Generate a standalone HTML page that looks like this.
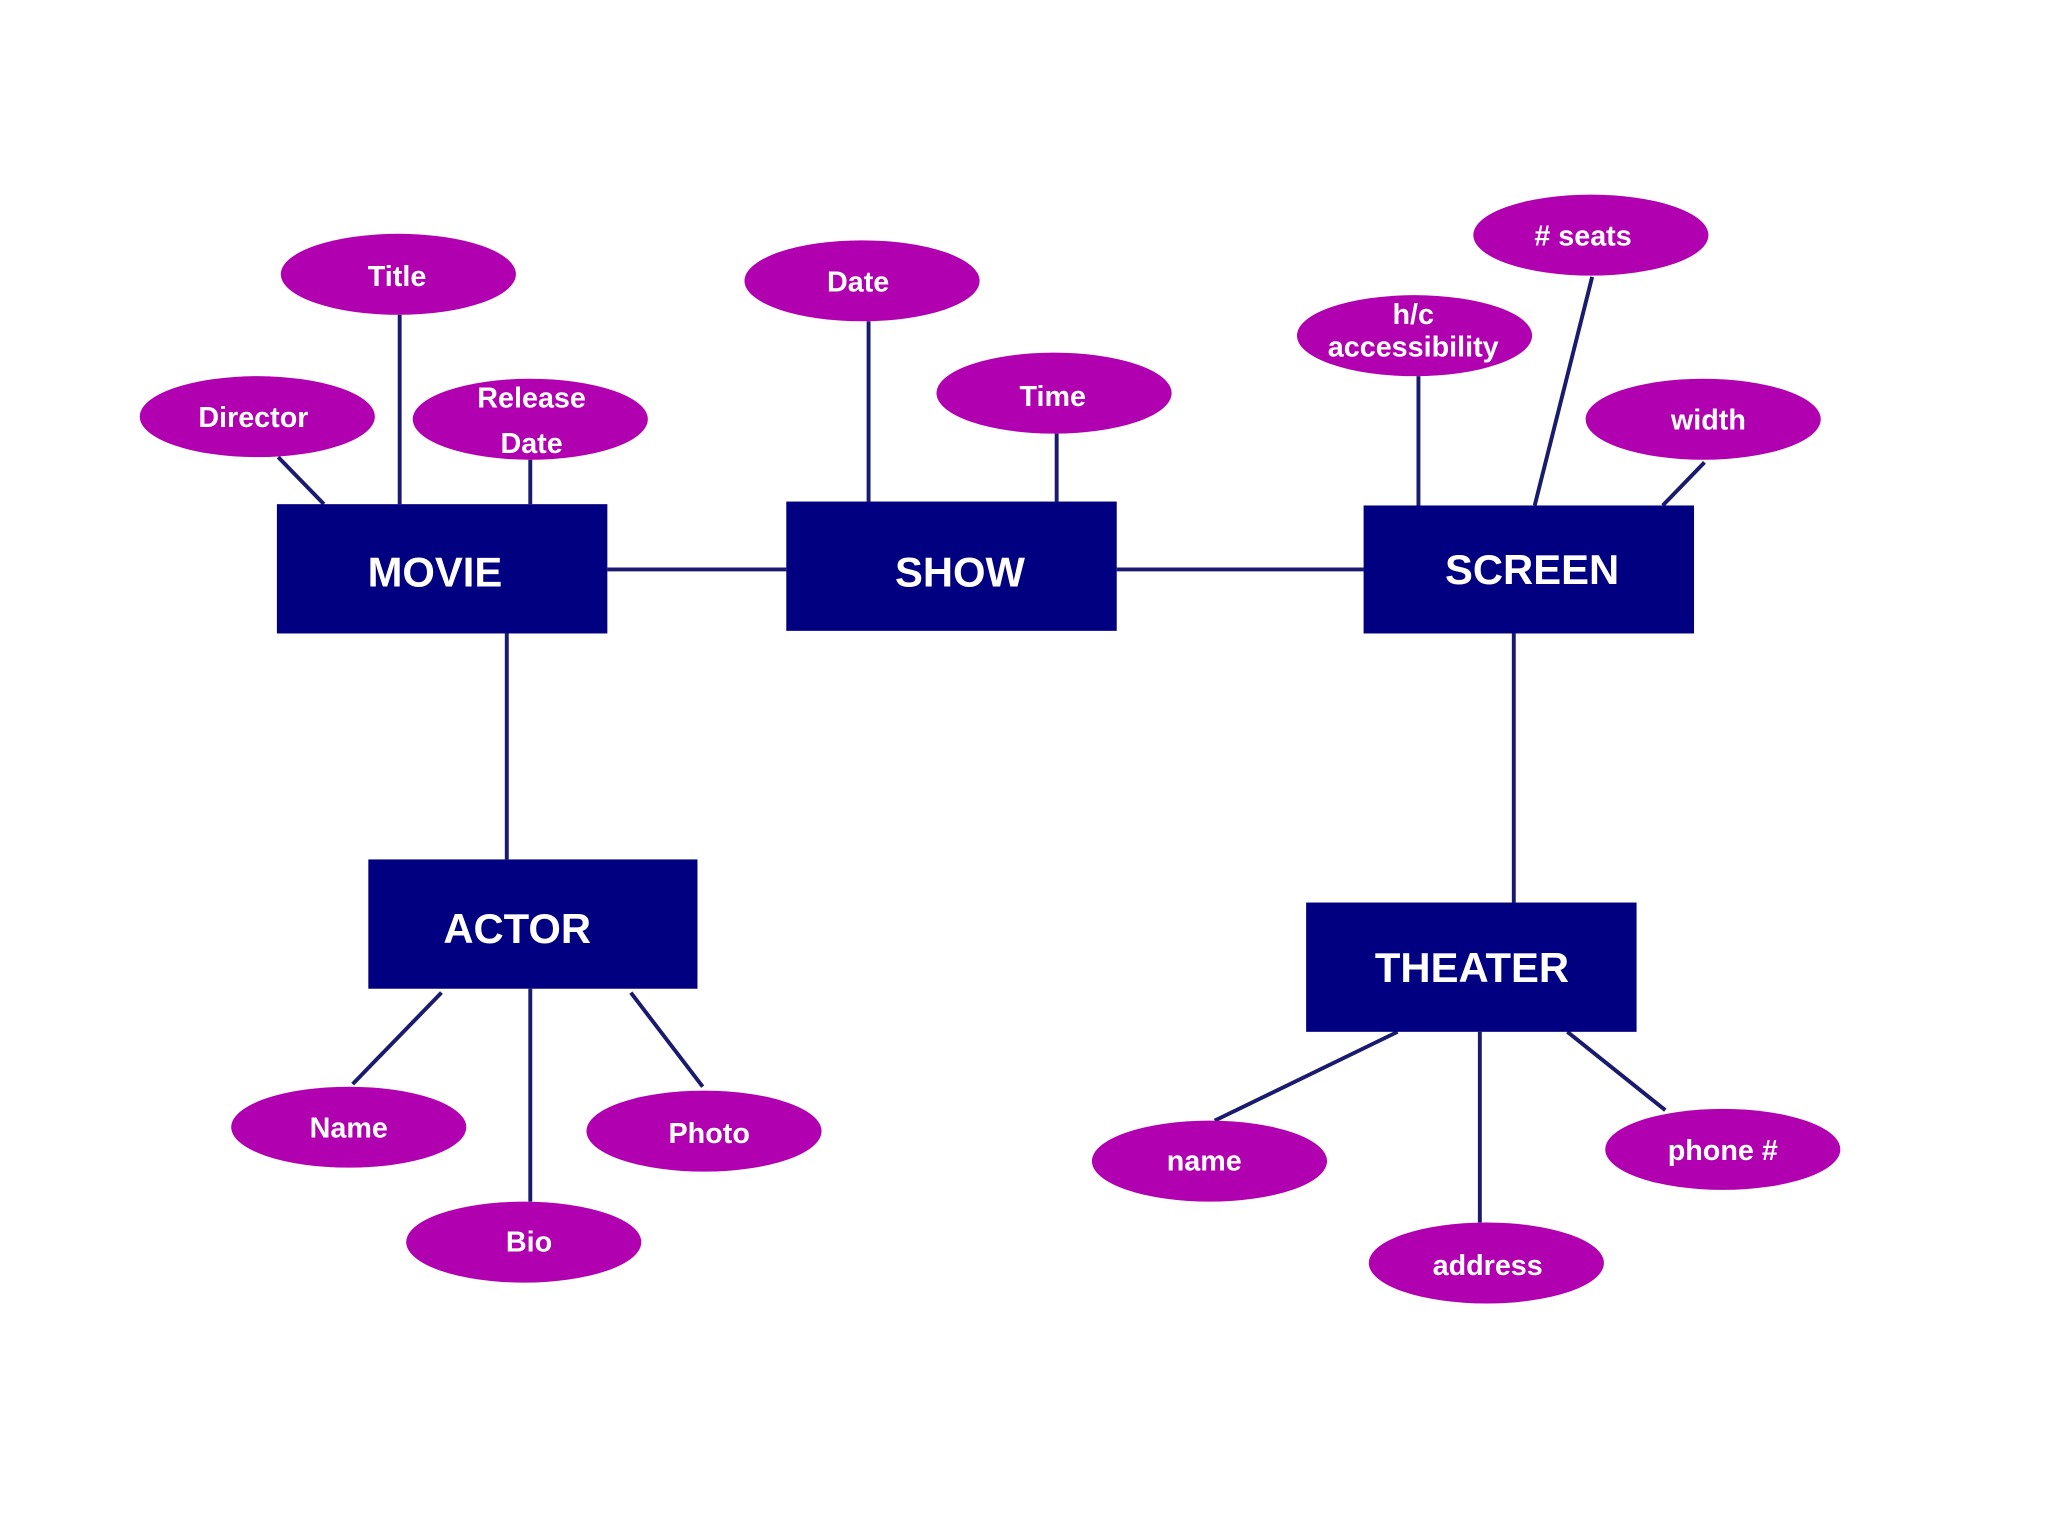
<!DOCTYPE html>
<html><head><meta charset="utf-8"><style>
html,body{margin:0;padding:0;background:#fff;}
svg{display:block;}
text{font-family:"Liberation Sans","DejaVu Sans",sans-serif;fill:#fff;font-weight:bold;text-anchor:middle;}
.e{font-size:22px;}
.b{font-size:32px;}
</style></head><body>
<svg width="2048" height="1536" viewBox="0 0 1568 1176" preserveAspectRatio="none" xmlns="http://www.w3.org/2000/svg">
<rect width="1568" height="1176" fill="#fff"/>
<g stroke="#1a1a6e" stroke-width="3" fill="none">
<line x1="213" y1="350" x2="248" y2="386"/>
<line x1="306" y1="241" x2="306" y2="386"/>
<line x1="406" y1="352" x2="406" y2="386"/>
<line x1="465" y1="436" x2="602" y2="436"/>
<line x1="855" y1="436" x2="1044" y2="436"/>
<line x1="665" y1="246" x2="665" y2="384"/>
<line x1="809" y1="332" x2="809" y2="384"/>
<line x1="1086" y1="288" x2="1086" y2="387"/>
<line x1="1219" y1="212" x2="1175" y2="387"/>
<line x1="1305" y1="354" x2="1273" y2="387"/>
<line x1="388" y1="485" x2="388" y2="658"/>
<line x1="1159" y1="485" x2="1159" y2="691"/>
<line x1="338" y1="760" x2="270" y2="830"/>
<line x1="406" y1="757" x2="406" y2="920"/>
<line x1="483" y1="760" x2="538" y2="832"/>
<line x1="1070" y1="790" x2="930" y2="858"/>
<line x1="1133" y1="790" x2="1133" y2="936"/>
<line x1="1200" y1="790" x2="1275" y2="850"/>
</g>
<g fill="#000080">
<rect x="212" y="386" width="253" height="99"/>
<rect x="602" y="384" width="253" height="99"/>
<rect x="1044" y="387" width="253" height="98"/>
<rect x="282" y="658" width="252" height="99"/>
<rect x="1000" y="691" width="253" height="99"/>
</g>
<text class="b" x="333" y="449">MOVIE</text>
<text class="b" x="735" y="449">SHOW</text>
<text class="b" x="1173" y="447">SCREEN</text>
<text class="b" x="396" y="722">ACTOR</text>
<text class="b" x="1127" y="752">THEATER</text>
<g fill="#b000b0">
<ellipse cx="305" cy="210" rx="90" ry="31"/>
<ellipse cx="197" cy="319" rx="90" ry="31"/>
<ellipse cx="406" cy="321" rx="90" ry="31"/>
<ellipse cx="660" cy="215" rx="90" ry="31"/>
<ellipse cx="807" cy="301" rx="90" ry="31"/>
<ellipse cx="1083" cy="257" rx="90" ry="31"/>
<ellipse cx="1218" cy="180" rx="90" ry="31"/>
<ellipse cx="1304" cy="321" rx="90" ry="31"/>
<ellipse cx="267" cy="863" rx="90" ry="31"/>
<ellipse cx="539" cy="866" rx="90" ry="31"/>
<ellipse cx="401" cy="951" rx="90" ry="31"/>
<ellipse cx="926" cy="889" rx="90" ry="31"/>
<ellipse cx="1138" cy="967" rx="90" ry="31"/>
<ellipse cx="1319" cy="880" rx="90" ry="31"/>
</g>
<text class="e" x="304" y="219">Title</text>
<text class="e" x="194" y="327">Director</text>
<text class="e" x="407" y="312">Release</text>
<text class="e" x="407" y="347">Date</text>
<text class="e" x="657" y="223">Date</text>
<text class="e" x="806" y="311">Time</text>
<text class="e" x="1082" y="248">h/c</text>
<text class="e" x="1082" y="273">accessibility</text>
<text class="e" x="1212" y="188">#  seats</text>
<text class="e" x="1308" y="329">width</text>
<text class="e" x="267" y="871">Name</text>
<text class="e" x="543" y="875">Photo</text>
<text class="e" x="405" y="958">Bio</text>
<text class="e" x="922" y="896">name</text>
<text class="e" x="1139" y="976">address</text>
<text class="e" x="1319" y="888">phone #</text>
</svg>
</body></html>
